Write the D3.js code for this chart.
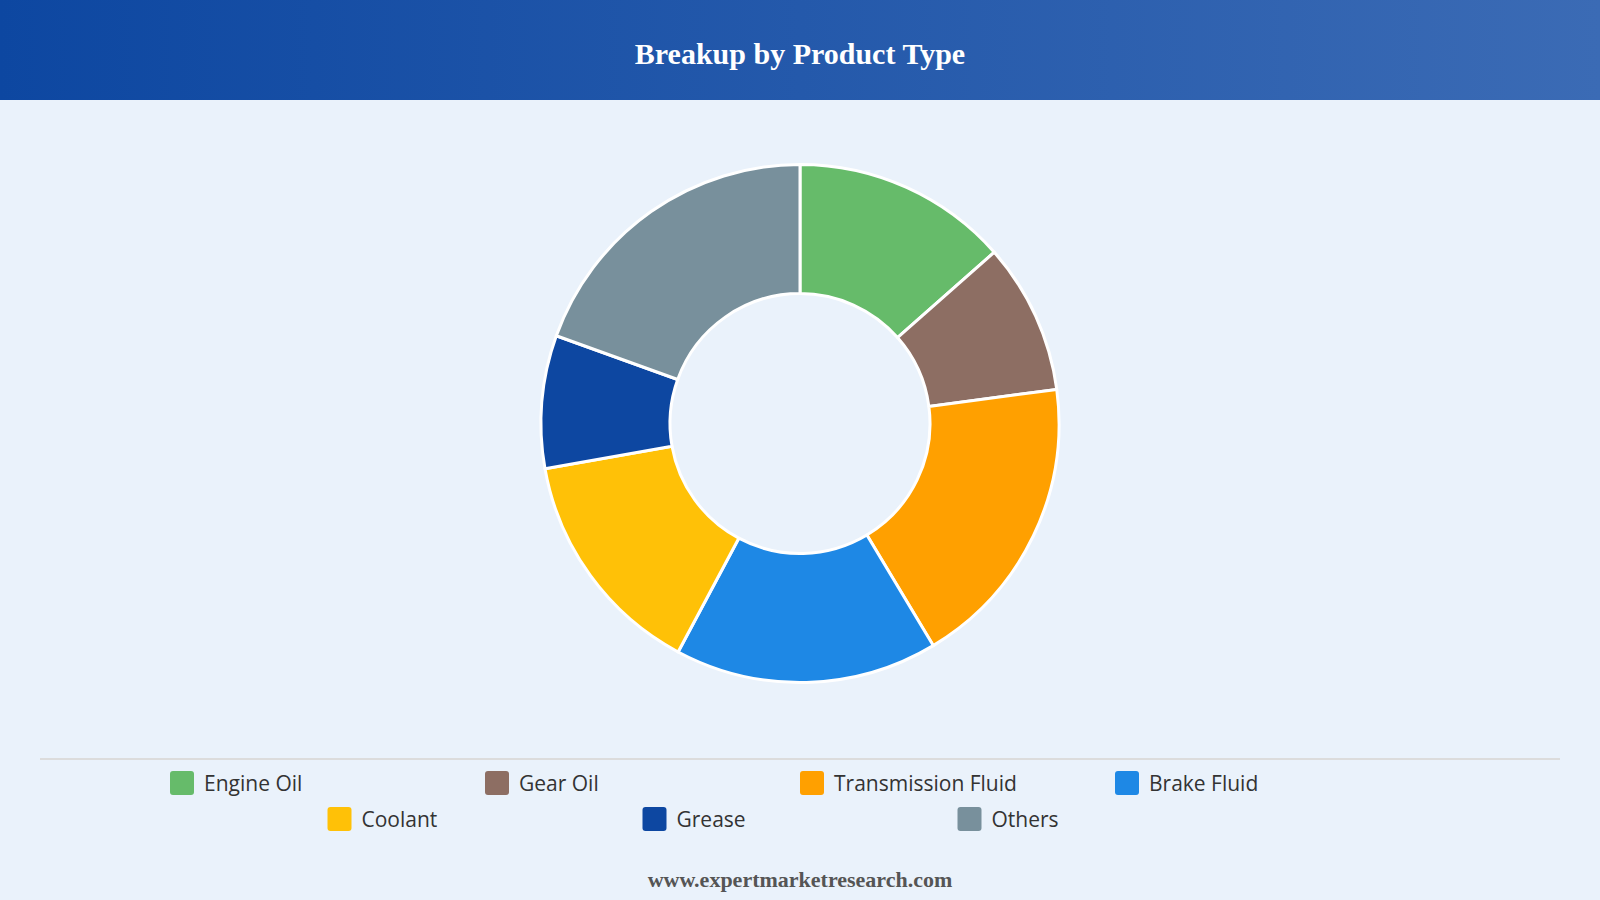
<!DOCTYPE html>
<html>
<head>
<meta charset="utf-8">
<script src="https://cdn.jsdelivr.net/npm/d3@7"></script>
<style>
    html, body { margin: 0; padding: 0; background: #eaf2fb; }
    svg { display: block; }
</style>
</head>
<body>
<svg id="chart" width="1600" height="900"></svg>
<script>
var categories = ["Engine Oil", "Gear Oil", "Transmission Fluid", "Brake Fluid", "Coolant", "Grease", "Others"];
var shares = [13.5, 9.4, 18.5, 16.4, 14.4, 8.3, 19.5];
var colors = ["#66bb6a", "#8d6e63", "#ffa000", "#1e88e5", "#ffc107", "#0d47a1", "#78909c"];
var title = "Breakup by Product Type";
var source = "www.expertmarketresearch.com";

var width = 1600, height = 900;
var svg = d3.select("#chart");

// header band
var defs = svg.append("defs");
var grad = defs.append("linearGradient").attr("id", "hdr");
grad.append("stop").attr("offset", "0%").attr("stop-color", "#0d47a1");
grad.append("stop").attr("offset", "100%").attr("stop-color", "#3b6bb5");

svg.append("rect").attr("width", width).attr("height", height).attr("fill", "#eaf2fb");
svg.append("rect").attr("width", width).attr("height", 100).attr("fill", "url(#hdr)");
svg.append("text")
    .attr("x", width / 2).attr("y", 53)
    .attr("text-anchor", "middle").attr("dominant-baseline", "central")
    .style("font-family", "'Liberation Serif', 'Times New Roman', serif")
    .style("font-weight", "bold").style("font-size", "30px")
    .attr("fill", "#fff")
    .text(title);

// doughnut
var cx = 800, cy = 423.5, outerR = 259, innerR = 130;
var pie = d3.pie().sort(null).value(function(d) { return d; });
var arc = d3.arc().innerRadius(innerR).outerRadius(outerR);
var color = d3.scaleOrdinal().domain(categories).range(colors);

svg.append("g")
    .attr("transform", "translate(" + cx + "," + cy + ")")
    .selectAll("path")
    .data(pie(shares))
    .enter()
    .append("path")
    .attr("d", arc)
    .attr("fill", function(d, i) { return color(categories[i]); })
    .attr("stroke", "#fff")
    .attr("stroke-width", 3)
    .attr("stroke-linejoin", "round");

// separator
svg.append("line")
    .attr("x1", 40).attr("x2", 1560).attr("y1", 759).attr("y2", 759)
    .attr("stroke", "#dcdcdc").attr("stroke-width", 2);

// legend: 4 per row, centred columns
var colW = 315, perRow = 4, rowY = [783, 819];
var legend = svg.append("g");
categories.forEach(function(name, i) {
    var row = Math.floor(i / perRow);
    var inRow = Math.min(perRow, categories.length - row * perRow);
    var startX = (width - inRow * colW) / 2;
    var x = startX + (i % perRow) * colW;
    var y = rowY[row];
    var item = legend.append("g").attr("transform", "translate(" + x + "," + y + ")");
    item.append("rect")
        .attr("x", 0).attr("y", -12).attr("width", 24).attr("height", 24)
        .attr("rx", 3).attr("fill", color(name));
    item.append("text")
        .attr("x", 34).attr("y", 0)
        .attr("dominant-baseline", "central")
        .style("font-family", "'Open Sans', 'Noto Sans', sans-serif")
        .style("font-size", "21px")
        .attr("fill", "#333")
        .text(name);
});

svg.append("text")
    .attr("x", width / 2).attr("y", 879)
    .attr("text-anchor", "middle").attr("dominant-baseline", "central")
    .style("font-family", "'Liberation Serif', 'Times New Roman', serif")
    .style("font-weight", "bold").style("font-size", "22px")
    .attr("fill", "#555")
    .text(source);
</script>
</body>
</html>
